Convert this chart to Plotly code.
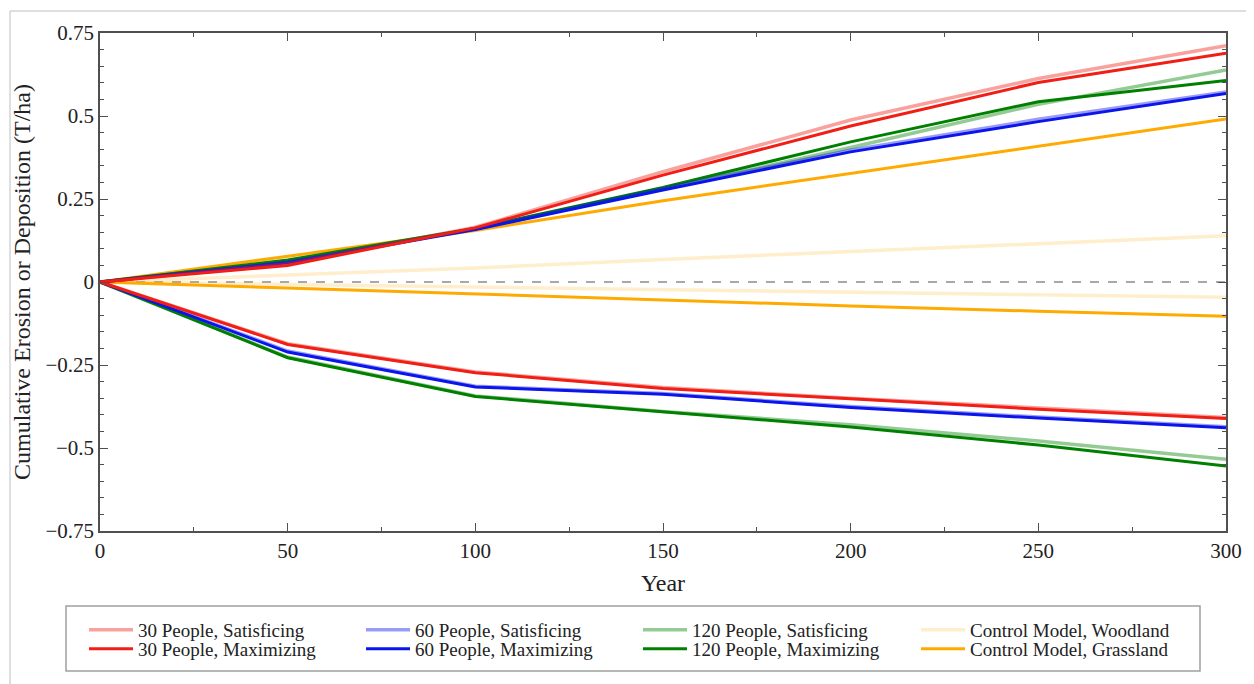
import plotly.graph_objects as go

years = [0, 50, 100, 150, 200, 250, 300]

s30_sat_up = [0, 0.055, 0.165, 0.332, 0.488, 0.613, 0.712]
s30_max_up = [0, 0.050, 0.163, 0.322, 0.470, 0.601, 0.689]
s30_sat_lo = [0, -0.186, -0.271, -0.318, -0.350, -0.380, -0.408]
s30_max_lo = [0, -0.188, -0.273, -0.321, -0.352, -0.383, -0.411]

s60_sat_up = [0, 0.060, 0.160, 0.282, 0.397, 0.490, 0.572]
s60_max_up = [0, 0.058, 0.158, 0.277, 0.392, 0.483, 0.568]
s60_sat_lo = [0, -0.208, -0.314, -0.336, -0.375, -0.407, -0.436]
s60_max_lo = [0, -0.211, -0.316, -0.338, -0.378, -0.410, -0.439]

s120_sat_up = [0, 0.063, 0.160, 0.280, 0.405, 0.535, 0.639]
s120_max_up = [0, 0.066, 0.162, 0.285, 0.422, 0.543, 0.607]
s120_sat_lo = [0, -0.226, -0.343, -0.390, -0.430, -0.479, -0.534]
s120_max_lo = [0, -0.228, -0.345, -0.392, -0.437, -0.491, -0.554]

wood_up = [0, 0.020, 0.042, 0.068, 0.092, 0.116, 0.139]
wood_lo = [0, -0.008, -0.015, -0.023, -0.031, -0.038, -0.046]
grass_up = [0, 0.078, 0.155, 0.245, 0.327, 0.410, 0.491]
grass_lo = [0, -0.018, -0.037, -0.056, -0.072, -0.088, -0.103]

zero_line = [0, 0]
zero_years = [0, 300]

y_ticks = [-0.75, -0.5, -0.25, 0, 0.25, 0.5, 0.75]
x_ticks = [0, 50, 100, 150, 200, 250, 300]

RED = "rgb(240,30,20)"
RED_L = "rgba(240,30,20,0.42)"
BLUE = "rgb(10,20,235)"
BLUE_L = "rgba(10,20,235,0.42)"
GREEN = "rgb(0,128,0)"
GREEN_L = "rgba(0,128,0,0.42)"
ORANGE = "rgb(255,170,0)"
ORANGE_L = "rgba(255,170,0,0.2)"

FONT = "Liberation Serif"

# page offset (browser body margin)
OFF = 8

W, H = 1254, 684
L, R, T, B = 100 - OFF, 1226 - OFF, 33 - OFF, 531 - OFF
pw, ph = R - L, B - T


def px(x):
    # page x -> paper
    return (x - OFF - L) / pw


def py(y):
    # page y -> paper
    return (B - (y - OFF)) / ph


fig = go.Figure()

fig.add_trace(go.Scatter(x=zero_years, y=zero_line, mode="lines",
                         line=dict(color="rgb(140,140,140)", width=1.3, dash="dash"),
                         showlegend=False, hoverinfo="skip"))

# (name, upper, lower, color, width, column, row)
series = [
    ("Control Model, Woodland", wood_up, wood_lo, ORANGE_L, 3.5, 3, 0),
    ("Control Model, Grassland", grass_up, grass_lo, ORANGE, 3, 3, 1),
    ("120 People, Satisficing", s120_sat_up, s120_sat_lo, GREEN_L, 3.5, 2, 0),
    ("120 People, Maximizing", s120_max_up, s120_max_lo, GREEN, 3, 2, 1),
    ("60 People, Satisficing", s60_sat_up, s60_sat_lo, BLUE_L, 3.5, 1, 0),
    ("60 People, Maximizing", s60_max_up, s60_max_lo, BLUE, 3, 1, 1),
    ("30 People, Satisficing", s30_sat_up, s30_sat_lo, RED_L, 3.5, 0, 0),
    ("30 People, Maximizing", s30_max_up, s30_max_lo, RED, 3, 0, 1),
]

col_line_x = [88, 365, 642, 920]
row_y = [630, 649]

legends = {}
for i, (name, up, lo, col, w, c, r) in enumerate(series):
    lg = "legend" if i == 0 else f"legend{i + 1}"
    fig.add_trace(go.Scatter(x=years, y=up, mode="lines", name=name,
                             line=dict(color=col, width=w), legendgroup=name,
                             legend=lg, showlegend=True))
    fig.add_trace(go.Scatter(x=years, y=lo, mode="lines", name=name,
                             line=dict(color=col, width=w), legendgroup=name,
                             legend=lg, showlegend=False))
    legends[lg] = dict(x=px(col_line_x[c] - 4), y=py(row_y[r]),
                       orientation="v", yanchor="middle", xanchor="left",
                       bgcolor="rgba(0,0,0,0)", borderwidth=0,
                       font=dict(family=FONT, size=19, color="#222"),
                       itemwidth=44)

axis_common = dict(
    showline=True, linecolor="rgb(80,80,80)", linewidth=1.6,
    ticks="inside", tickcolor="rgb(80,80,80)", ticklen=8, tickwidth=1.3,
    mirror="allticks", showgrid=False, zeroline=False,
    tickfont=dict(family=FONT, size=21, color="#222"),
)

fig.update_xaxes(range=[0, 300], tickvals=x_ticks,
                 minor=dict(ticks="inside", dtick=25, ticklen=4, tickcolor="rgb(80,80,80)", showgrid=False),
                 title=dict(text="Year", font=dict(family=FONT, size=24, color="#222"), standoff=12),
                 **axis_common)
fig.update_yaxes(range=[-0.75, 0.75], tickvals=y_ticks,
                 minor=dict(ticks="inside", dtick=0.05, ticklen=4, tickcolor="rgb(80,80,80)", showgrid=False),
                 title=dict(text="Cumulative Erosion or Deposition (T/ha)",
                            font=dict(family=FONT, size=24, color="#222"), standoff=8),
                 **axis_common)

fig.update_layout(
    width=W, height=H,
    margin=dict(l=L, r=W - R, t=T, b=H - B),
    plot_bgcolor="white", paper_bgcolor="white",
    shapes=[
        dict(type="rect", xref="paper", yref="paper",
             x0=px(10), x1=px(1253), y0=py(700), y1=py(11),
             line=dict(color="rgb(190,190,190)", width=1), layer="below"),
        dict(type="rect", xref="paper", yref="paper",
             x0=px(66), x1=px(1200), y0=py(671), y1=py(606),
             line=dict(color="rgb(160,160,160)", width=1.5), layer="below"),
    ],
    **legends,
)

fig.write_html("out.html")
